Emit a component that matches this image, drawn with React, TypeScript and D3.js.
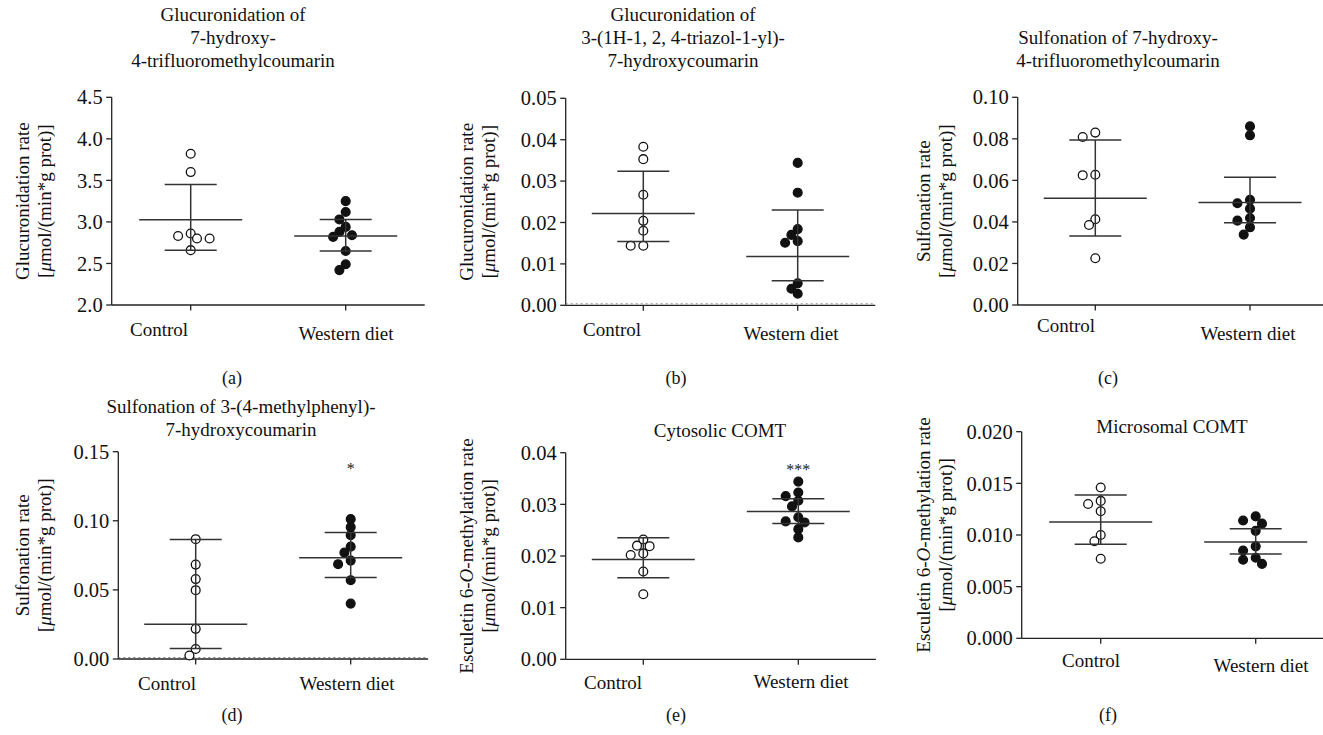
import React from "react";
import * as d3 from "d3";

const categories = ["Control", "Western diet"];

// Panel (a)
const aControl = [3.82, 3.6, 2.86, 2.83, 2.8, 2.8, 2.66];
const aWestern = [3.25, 3.12, 3.03, 2.94, 2.88, 2.84, 2.82, 2.65, 2.49, 2.42];
const aControlStats = [3.025, 3.45, 2.66]; // mean, upper, lower
const aWesternStats = [2.83, 3.03, 2.65];
const aTicks = [2.0, 2.5, 3.0, 3.5, 4.0, 4.5];

// Panel (b)
const bControl = [0.0383, 0.0353, 0.0267, 0.0204, 0.018, 0.0144, 0.0144];
const bWestern = [0.0344, 0.0272, 0.0184, 0.017, 0.0155, 0.0151, 0.0053, 0.004, 0.0028];
const bControlStats = [0.0222, 0.0324, 0.0154];
const bWesternStats = [0.0118, 0.023, 0.0059];
const bTicks = [0, 0.01, 0.02, 0.03, 0.04, 0.05];

// Panel (c)
const cControl = [0.083, 0.0809, 0.0627, 0.0625, 0.0413, 0.0385, 0.0225];
const cWestern = [0.086, 0.0817, 0.0506, 0.049, 0.0464, 0.0419, 0.0406, 0.0374, 0.0339];
const cControlStats = [0.0514, 0.0794, 0.0332];
const cWesternStats = [0.0493, 0.0615, 0.0396];
const cTicks = [0, 0.02, 0.04, 0.06, 0.08, 0.1];

// Panel (d)
const dControl = [0.0867, 0.0683, 0.0578, 0.0498, 0.0218, 0.0072, 0.0025];
const dWestern = [0.1012, 0.0954, 0.0896, 0.0813, 0.077, 0.0712, 0.0686, 0.057, 0.0401];
const dControlStats = [0.0252, 0.0864, 0.0076];
const dWesternStats = [0.0732, 0.0915, 0.0589];
const dTicks = [0, 0.05, 0.1, 0.15];

// Panel (e)
const eControl = [0.0232, 0.0219, 0.022, 0.0202, 0.0205, 0.017, 0.0126];
const eWestern = [0.0344, 0.0316, 0.0323, 0.0307, 0.0296, 0.0275, 0.0267, 0.0265, 0.0252, 0.0236];
const eControlStats = [0.0193, 0.02355, 0.0158];
const eWesternStats = [0.0286, 0.0311, 0.0263];
const eTicks = [0, 0.01, 0.02, 0.03, 0.04];

// Panel (f)
const fControl = [0.0146, 0.0133, 0.013, 0.0123, 0.01, 0.0094, 0.0077];
const fWestern = [0.0118, 0.0114, 0.0111, 0.0104, 0.0089, 0.0085, 0.0078, 0.0076, 0.0072];
const fControlStats = [0.01126, 0.01387, 0.0091];
const fWesternStats = [0.00932, 0.01061, 0.00816];
const fTicks = [0, 0.005, 0.01, 0.015, 0.02];

const FONT = "'Liberation Serif', 'Times New Roman', serif";

type PanelDef = {
  label: string;
  title: string[];
  titleX: number;
  titleY: number[];
  ylabel: React.ReactNode[];
  ylabelX: number[];
  ticks: number[];
  fmt: string;
  control: number[];
  western: number[];
  cStats: number[];
  wStats: number[];
  axisX: number;
  ctrlX: number;
  westX: number;
  yTop: number;
  yBot: number;
  star?: string;
  labelX: number;
  labelY: number;
  catX: number[];
  catY: number[];
  dotted?: boolean;
};

const unitLabel = (
  <>
    [<tspan fontStyle="italic">μ</tspan>mol/(min*g prot)]
  </>
);

const panels: PanelDef[] = [
  {
    label: "(a)",
    title: ["Glucuronidation of", "7-hydroxy-", "4-trifluoromethylcoumarin"],
    titleX: 233,
    titleY: [21, 44, 67],
    ylabel: [<>Glucuronidation rate</>, unitLabel],
    ylabelX: [22, 44],
    ticks: aTicks,
    fmt: ".1f",
    control: aControl,
    western: aWestern,
    cStats: aControlStats,
    wStats: aWesternStats,
    axisX: 111.7,
    ctrlX: 190.7,
    westX: 345.7,
    yTop: 97.3,
    yBot: 305,
    labelX: 232,
    labelY: 384,
    catX: [159, 346],
    catY: [329, 333],
  },
  {
    label: "(b)",
    title: ["Glucuronidation of", "3-(1H-1, 2, 4-triazol-1-yl)-", "7-hydroxycoumarin"],
    titleX: 683,
    titleY: [21, 44, 67],
    ylabel: [<>Glucuronidation rate</>, unitLabel],
    ylabelX: [466, 488],
    ticks: bTicks,
    fmt: ".2f",
    control: bControl,
    western: bWestern,
    cStats: bControlStats,
    wStats: bWesternStats,
    axisX: 565.7,
    ctrlX: 643.3,
    westX: 797.7,
    yTop: 98.3,
    yBot: 305.3,
    labelX: 676,
    labelY: 384,
    catX: [612, 791],
    catY: [329, 333],
    dotted: true,
  },
  {
    label: "(c)",
    title: ["Sulfonation of 7-hydroxy-", "4-trifluoromethylcoumarin"],
    titleX: 1118,
    titleY: [44, 67],
    ylabel: [<>Sulfonation rate</>, unitLabel],
    ylabelX: [923, 945],
    ticks: cTicks,
    fmt: ".2f",
    control: cControl,
    western: cWestern,
    cStats: cControlStats,
    wStats: cWesternStats,
    axisX: 1017.7,
    ctrlX: 1095.3,
    westX: 1250,
    yTop: 97.3,
    yBot: 305,
    labelX: 1108,
    labelY: 384,
    catX: [1066, 1248],
    catY: [325, 333],
  },
  {
    label: "(d)",
    title: ["Sulfonation of 3-(4-methylphenyl)-", "7-hydroxycoumarin"],
    titleX: 241,
    titleY: [413, 436],
    ylabel: [<>Sulfonation rate</>, unitLabel],
    ylabelX: [22, 44],
    ticks: dTicks,
    fmt: ".2f",
    control: dControl,
    western: dWestern,
    cStats: dControlStats,
    wStats: dWesternStats,
    axisX: 118.3,
    ctrlX: 195.7,
    westX: 350.7,
    yTop: 451.7,
    yBot: 659,
    star: "*",
    labelX: 232,
    labelY: 721,
    catX: [167, 347],
    catY: [683, 683],
    dotted: true,
  },
  {
    label: "(e)",
    title: ["Cytosolic COMT"],
    titleX: 720,
    titleY: [437],
    ylabel: [
      <>
        Esculetin 6-<tspan fontStyle="italic">O</tspan>-methylation rate
      </>,
      unitLabel,
    ],
    ylabelX: [466, 488],
    ticks: eTicks,
    fmt: ".2f",
    control: eControl,
    western: eWestern,
    cStats: eControlStats,
    wStats: eWesternStats,
    axisX: 565.7,
    ctrlX: 643.3,
    westX: 798.3,
    yTop: 452.7,
    yBot: 659.3,
    star: "***",
    labelX: 676,
    labelY: 721,
    catX: [613, 801],
    catY: [682, 681],
  },
  {
    label: "(f)",
    title: ["Microsomal COMT"],
    titleX: 1172,
    titleY: [433],
    ylabel: [
      <>
        Esculetin 6-<tspan fontStyle="italic">O</tspan>-methylation rate
      </>,
      unitLabel,
    ],
    ylabelX: [923, 945],
    ticks: fTicks,
    fmt: ".3f",
    control: fControl,
    western: fWestern,
    cStats: fControlStats,
    wStats: fWesternStats,
    axisX: 1021.7,
    ctrlX: 1100.7,
    westX: 1255.7,
    yTop: 431.7,
    yBot: 638.3,
    labelX: 1108,
    labelY: 721,
    catX: [1091, 1261],
    catY: [660, 665],
  },
];

// simple dodge layout: keeps y exact, spreads x to avoid overlap
function dodge(ys: number[], step: number, minDist: number): number[] {
  const order = ys.map((y, i) => i).sort((a, b) => ys[a] - ys[b]);
  const placed: { x: number; y: number }[] = [];
  const out = new Array(ys.length).fill(0);
  const cands: number[] = [0];
  for (let k = 1; k < 8; k++) cands.push(-k, k);
  for (const i of order) {
    const y = ys[i];
    for (const k of cands) {
      const x = k * step;
      const ok = placed.every((p) => Math.hypot(p.x - x, p.y - y) >= minDist);
      if (ok) {
        placed.push({ x, y });
        out[i] = x;
        break;
      }
    }
  }
  return out;
}

function Panel({ p }: { p: PanelDef }) {
  const dom = d3.extent(p.ticks) as [number, number];
  const y = d3.scaleLinear().domain(dom).range([p.yBot, p.yTop]);
  const x = d3.scalePoint<string>().domain(categories).range([p.ctrlX, p.westX]);
  const axisEnd = p.westX + (p.ctrlX - p.axisX);
  const fmt = d3.format(p.fmt);
  const r = 4.4;
  const groups = [
    { cat: categories[0], vals: p.control, stats: p.cStats, filled: false },
    { cat: categories[1], vals: p.western, stats: p.wStats, filled: true },
  ];
  const ylabelCenter = (p.yTop + p.yBot) / 2;
  return (
    <g>
      {p.title.map((t, i) => (
        <text key={i} x={p.titleX} y={p.titleY[i]} textAnchor="middle" fontSize={19}>
          {t}
        </text>
      ))}
      {p.ylabel.map((t, i) => (
        <text
          key={i}
          transform={`translate(${p.ylabelX[i]},${ylabelCenter}) rotate(-90)`}
          textAnchor="middle"
          dy="0.35em"
          fontSize={19}
        >
          {t}
        </text>
      ))}
      <line x1={p.axisX} x2={p.axisX} y1={y(dom[0])} y2={y(dom[1])} stroke="#222" strokeWidth={1.3} />
      {p.ticks.map((t) => (
        <g key={t}>
          <line x1={p.axisX - 5.5} x2={p.axisX} y1={y(t)} y2={y(t)} stroke="#222" strokeWidth={1.3} />
          <text x={p.axisX - 9} y={y(t)} dy="0.35em" textAnchor="end" fontSize={20.5}>
            {fmt(t)}
          </text>
        </g>
      ))}
      <line x1={p.axisX} x2={axisEnd} y1={y(dom[0])} y2={y(dom[0])} stroke="#222" strokeWidth={1.3} />
      {p.dotted && (
        <line
          x1={p.axisX}
          x2={axisEnd}
          y1={y(dom[0]) - 1.5}
          y2={y(dom[0]) - 1.5}
          stroke="#888"
          strokeWidth={1}
          strokeDasharray="2,3"
        />
      )}
      {categories.map((c, i) => (
        <g key={c}>
          <line x1={x(c)} x2={x(c)} y1={y(dom[0])} y2={y(dom[0]) + 5.5} stroke="#222" strokeWidth={1.3} />
          <text x={p.catX[i]} y={p.catY[i]} dy="0.35em" textAnchor="middle" fontSize={19}>
            {c}
          </text>
        </g>
      ))}
      {groups.map((g) => {
        const cx = x(g.cat) as number;
        const ys = g.vals.map((v) => y(v));
        const offs = dodge(ys, 6.3, 7.8);
        const [m, hi, lo] = g.stats;
        return (
          <g key={g.cat}>
            {g.vals.map((v, i) => (
              <circle
                key={i}
                cx={cx + offs[i]}
                cy={ys[i]}
                r={r}
                fill={g.filled ? "#111" : "#fff"}
                stroke="#111"
                strokeWidth={1.3}
              />
            ))}
            <g stroke="#333" strokeWidth={1.5}>
              <line x1={cx} x2={cx} y1={y(hi)} y2={y(lo)} />
              <line x1={cx - 51.5} x2={cx + 51.5} y1={y(m)} y2={y(m)} />
              <line x1={cx - 26} x2={cx + 26} y1={y(hi)} y2={y(hi)} />
              <line x1={cx - 26} x2={cx + 26} y1={y(lo)} y2={y(lo)} />
            </g>
          </g>
        );
      })}
      {p.star && (
        <text x={x(categories[1])} y={y(dom[1]) + 22} textAnchor="middle" fontSize={16} fill="#222">
          {p.star}
        </text>
      )}
      <text x={p.labelX} y={p.labelY} textAnchor="middle" fontSize={18}>
        {p.label}
      </text>
    </g>
  );
}

export default function App() {
  return (
    <svg
      width={1323}
      height={735}
      style={{ position: "absolute", left: 0, top: 0, background: "#fff" }}
      fontFamily={FONT}
      fill="#111"
    >
      <rect width={1323} height={735} fill="#fff" />
      {panels.map((p) => (
        <Panel key={p.label} p={p} />
      ))}
    </svg>
  );
}
